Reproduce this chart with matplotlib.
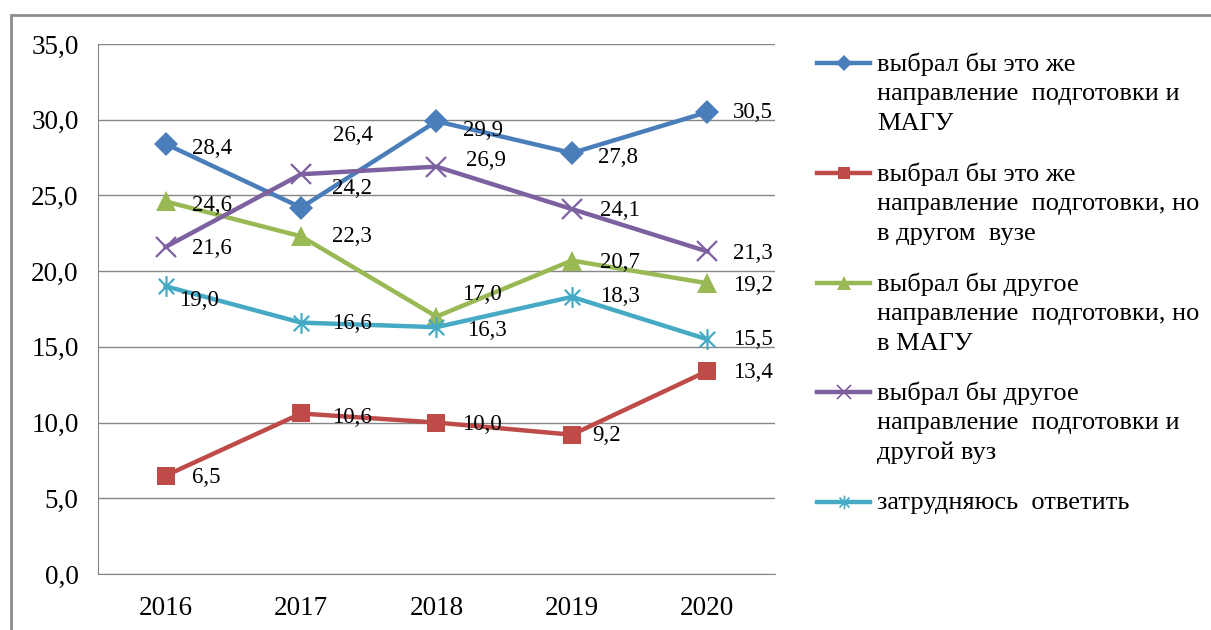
import matplotlib.pyplot as plt
from matplotlib.lines import Line2D
from matplotlib.patches import Rectangle
from matplotlib.path import Path

plt.rcParams['font.family'] = ['Liberation Serif', 'DejaVu Serif']

years = ["2016", "2017", "2018", "2019", "2020"]
same_magu = [28.4, 24.2, 29.9, 27.8, 30.5]
same_other = [6.5, 10.6, 10.0, 9.2, 13.4]
other_magu = [24.6, 22.3, 17.0, 20.7, 19.2]
other_other = [21.6, 26.4, 26.9, 24.1, 21.3]
hard = [19.0, 16.6, 16.3, 18.3, 15.5]

labels = [
    ["выбрал бы это же", "направление  подготовки и", "МАГУ"],
    ["выбрал бы это же", "направление  подготовки, но", "в другом  вузе"],
    ["выбрал бы другое", "направление  подготовки, но", "в МАГУ"],
    ["выбрал бы другое", "направление  подготовки и", "другой вуз"],
    ["затрудняюсь  ответить"],
]

# excel-like asterisk: two diagonals plus a vertical stroke
star = Path([(-1, -1), (1, 1), (-1, 1), (1, -1), (0, -1.35), (0, 1.35)],
            [Path.MOVETO, Path.LINETO] * 3)

series = [same_magu, same_other, other_magu, other_other, hard]
colors = ["#4A7EBB", "#BE4B48", "#98B954", "#7D60A0", "#46AAC5"]
markers = ["D", "s", "^", "x", star]
msizes = [12, 13, 15, 15, 15]

# label offsets in pixels (dx, dy)
offsets = [
    [(26, -5), (31, 19), (27, -9), (26, -4), (26, 0)],
    [(26, -2), (31, -4), (26, -2), (20, -1), (26, -1)],
    [(26, -4), (31, 0), (26, 22), (28, -2), (26, -2)],
    [(26, -2), (32, 39), (30, 6), (28, -1), (26, -2)],
    [(13, -14), (31, -1), (31, -3), (28, 0), (26, 0)],
]

fig = plt.figure(figsize=(12.11, 6.30), dpi=100)
ax = fig.add_axes([98 / 1211, 56 / 630, 677 / 1211, 530 / 630])

x = range(len(years))
for i, vals in enumerate(series):
    thin = i >= 3
    ax.plot(x, vals, color=colors[i], lw=3.2, marker=markers[i], ms=msizes[i],
            mew=1.6 if thin else 0, markeredgecolor=colors[i], zorder=3)
    for j, v in enumerate(vals):
        dx, dy = offsets[i][j]
        ax.annotate(f"{v:.1f}".replace(".", ","), (j, v), xytext=(dx, dy),
                    textcoords="offset pixels", ha="left", va="center",
                    fontsize=16.5, zorder=4)

ax.set_xlim(-0.5, 4.5)
ax.set_ylim(0, 35)
ax.set_xticks(list(x))
ax.set_xticklabels(years)
ax.set_yticks([0, 5, 10, 15, 20, 25, 30, 35])
ax.set_yticklabels([f"{t:.1f}".replace(".", ",") for t in range(0, 36, 5)])
ax.tick_params(length=0, labelsize=19.5, pad=14)
ax.tick_params(axis="x", pad=16)
ax.grid(axis="y", color="#868686", lw=1)
ax.set_axisbelow(True)
for s in ["top", "right"]:
    ax.spines[s].set_visible(False)
ax.spines["left"].set_color("#868686")
ax.spines["bottom"].set_color("#868686")

# legend drawn by hand so the marker sits on the first line
ys = [63, 173, 283, 392, 502]
for i, y in enumerate(ys):
    yf = 1 - y / 630
    thin = i >= 3
    fig.add_artist(Line2D([817 / 1211, 870 / 1211], [yf, yf], color=colors[i],
                          lw=3.2, transform=fig.transFigure))
    fig.add_artist(Line2D([843.5 / 1211], [yf], color=colors[i], marker=markers[i],
                          ms=msizes[i] * 0.65, mew=1.2 if thin else 0,
                          markeredgecolor=colors[i], transform=fig.transFigure))
    for k, line in enumerate(labels[i]):
        fig.text(877 / 1211, 1 - (y + 1 + 30 * k) / 630, line, ha="left",
                 va="center", fontsize=19)

# outer chart frame, cut off on the right and bottom
fig.add_artist(Rectangle((11 / 1211, -0.1), 1.2, 1.1 - 15 / 630,
                         transform=fig.transFigure, fill=False,
                         edgecolor="#8c8c8c", lw=2))

fig.savefig("out.png", dpi=100)
